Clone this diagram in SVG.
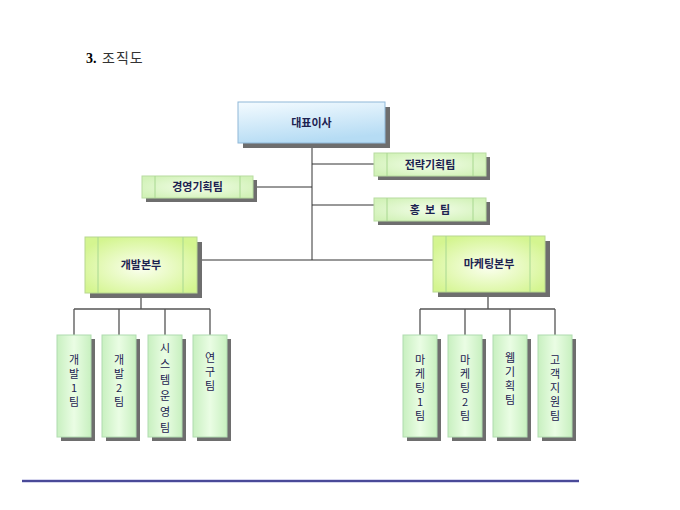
<svg xmlns="http://www.w3.org/2000/svg" width="680" height="510" viewBox="0 0 680 510">
<style>
.sh{fill:#6e6e6e}
.lbl{font-family:"Noto Sans CJK KR","Liberation Sans",sans-serif;font-size:11px;font-weight:bold;fill:#1c2250;text-anchor:middle}
.vt{font-family:"Noto Sans CJK KR","Liberation Sans",sans-serif;font-size:11px;fill:#1c2250;writing-mode:vertical-rl;text-orientation:upright;letter-spacing:3px}
.vt6{letter-spacing:5px}
.inner{stroke:#a8d890;stroke-width:1}
.con{stroke:#333;stroke-width:1;fill:none}
.con2{stroke:#555;stroke-width:1.3;fill:none}
.gbox{fill:url(#gGreen);stroke:#b8dca0;stroke-width:1}
.ybox{fill:url(#gYel);stroke:#b8d890;stroke-width:1}
.cbox{fill:url(#gMint);stroke:#b0dcb0;stroke-width:1}
</style>
<defs>
<linearGradient id="gBlue" x1="0" y1="0" x2="0.3" y2="1">
<stop offset="0" stop-color="#f4fbff"/>
<stop offset="1" stop-color="#b6dcf4"/>
</linearGradient>
<radialGradient id="gGreen" cx="0.5" cy="0.5" r="0.6">
<stop offset="0" stop-color="#f2fde8"/>
<stop offset="1" stop-color="#d2f2b8"/>
</radialGradient>
<radialGradient id="gYel" cx="0.5" cy="0.55" r="0.6">
<stop offset="0" stop-color="#fbfff0"/>
<stop offset="1" stop-color="#d4f590"/>
</radialGradient>
<linearGradient id="gMint" x1="0" y1="0" x2="1" y2="0">
<stop offset="0" stop-color="#c8f0c0"/>
<stop offset="0.5" stop-color="#eafde4"/>
<stop offset="1" stop-color="#c8f0c0"/>
</linearGradient>
</defs>
<rect width="680" height="510" fill="#fff"/>

<g id="title">
<text x="86" y="63" font-family="Liberation Serif,serif" font-size="14" font-weight="bold" fill="#000">3.</text>
<text x="102" y="63" font-family="Noto Sans CJK KR,sans-serif" font-size="14" fill="#333" letter-spacing="1">조직도</text>
</g>

<g id="connectors">
<path class="con" d="M312 143V260M197 260H433M312 164H374M253 187H312M312 205H374"/>
<path class="con2" d="M141 293V309M74 309H210M74 309V335M119 309V335M165 309V335M210 309V335"/>
<path class="con2" d="M488 292V309M420 309H555M420 309V335M465 309V335M510 309V335M555 309V335"/>
</g>

<g id="ceo">
<rect class="sh" x="243" y="107" width="147" height="41"/>
<rect x="238" y="102" width="147" height="41" fill="url(#gBlue)" stroke="#8fb8d8"/>
<text class="lbl" x="311.5" y="127">대표이사</text>
</g>

<g id="strategy">
<rect class="sh" x="378" y="157" width="112" height="23"/>
<rect class="gbox" x="374" y="153" width="112" height="23"/>
<path class="inner" d="M387 153V176M473 153V176"/>
<text class="lbl" x="430" y="168.5">전략기획팀</text>
</g>

<g id="pr">
<rect class="sh" x="378" y="202" width="112" height="23"/>
<rect class="gbox" x="374" y="198" width="112" height="23"/>
<path class="inner" d="M387 198V221M473 198V221"/>
<text class="lbl" x="430" y="213.5" xml:space="preserve">홍  보  팀</text>
</g>

<g id="management">
<rect class="sh" x="146" y="180" width="111" height="22"/>
<rect class="gbox" x="142" y="176" width="111" height="22"/>
<path class="inner" d="M155 176V198M240 176V198"/>
<text class="lbl" x="197.5" y="191">경영기획팀</text>
</g>

<g id="dev">
<rect class="sh" x="90" y="242" width="112" height="56"/>
<rect class="ybox" x="85" y="237" width="112" height="56"/>
<path class="inner" d="M98 237V293M183 237V293"/>
<text class="lbl" x="141" y="269">개발본부</text>
</g>

<g id="mkt">
<rect class="sh" x="438" y="241" width="112" height="56"/>
<rect class="ybox" x="433" y="236" width="112" height="56"/>
<path class="inner" d="M446 236V292M530 236V292"/>
<text class="lbl" x="489" y="268">마케팅본부</text>
</g>

<g id="dev1">
<rect class="sh" x="61" y="339" width="34" height="102"/>
<rect class="cbox" x="57" y="335" width="34" height="102"/>
<text class="vt" x="74" y="354.5">개발1팀</text>
</g>
<g id="dev2">
<rect class="sh" x="106" y="339" width="34" height="102"/>
<rect class="cbox" x="102" y="335" width="34" height="102"/>
<text class="vt" x="119" y="354.5">개발2팀</text>
</g>
<g id="sysops">
<rect class="sh" x="152" y="339" width="34" height="102"/>
<rect class="cbox" x="148" y="335" width="34" height="102"/>
<text class="vt vt6" x="165" y="342.5">시스템운영팀</text>
</g>
<g id="research">
<rect class="sh" x="197" y="339" width="34" height="102"/>
<rect class="cbox" x="193" y="335" width="34" height="102"/>
<text class="vt" x="210" y="352.5">연구팀</text>
</g>

<g id="mkt1">
<rect class="sh" x="407" y="339" width="34" height="102"/>
<rect class="cbox" x="403" y="335" width="34" height="102"/>
<text class="vt" x="420" y="354.5">마케팅1팀</text>
</g>
<g id="mkt2">
<rect class="sh" x="452" y="339" width="34" height="102"/>
<rect class="cbox" x="448" y="335" width="34" height="102"/>
<text class="vt" x="465" y="354.5">마케팅2팀</text>
</g>
<g id="web">
<rect class="sh" x="497" y="339" width="34" height="102"/>
<rect class="cbox" x="493" y="335" width="34" height="102"/>
<text class="vt" x="510" y="352.5">웹기획팀</text>
</g>
<g id="cs">
<rect class="sh" x="542" y="339" width="34" height="102"/>
<rect class="cbox" x="538" y="335" width="34" height="102"/>
<text class="vt" x="555" y="354.5">고객지원팀</text>
</g>

<g id="rule">
<line x1="22" y1="481" x2="579" y2="481" stroke="#c8c8e8" stroke-width="3.5"/>
<line x1="22" y1="481" x2="579" y2="481" stroke="#4a4a98" stroke-width="2"/>
</g>
</svg>
